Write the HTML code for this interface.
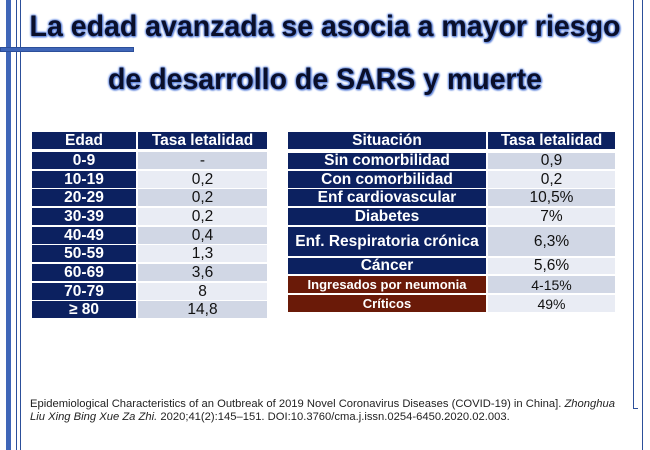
<!DOCTYPE html>
<html><head><meta charset="utf-8"><style>
body{margin:0;width:650px;height:450px;background:#fff;position:relative;overflow:hidden;font-family:"Liberation Sans",Arial,sans-serif}
.a{position:absolute}
.t{position:absolute;left:0;width:650px;text-align:center;font-weight:bold;font-size:30px;color:#0a0f2a;text-shadow:0 0 3px #5f86e0,0 0 3px #5f86e0,0 0 2px #5f86e0,1px 1px 2px #4a70c8}
.c{position:absolute;display:flex;align-items:center;justify-content:center;font-size:15.5px;color:#111}
.h{background:#0c2160;color:#fff;font-weight:bold}
.br{background:#6a1a08;color:#fff;font-weight:bold;font-size:13px}
.l1{background:#d1d7e5}.l2{background:#e9ecf4}
</style></head><body>
<div class="a" style="left:6px;top:0;width:5px;height:450px;background:#3f66b8"></div>
<div class="a" style="left:16px;top:0;width:1px;height:450px;background:#2c4f9a"></div>
<div class="a" style="left:20px;top:0;width:1px;height:450px;background:#2c4f9a"></div>
<div class="a" style="left:0;top:47px;width:134px;height:5px;background:#3f66b8;border:1px solid #2c4f9a;box-sizing:border-box"></div>
<div class="a" style="left:633px;top:0;width:1px;height:409px;background:#2c4f9a"></div>
<div class="a" style="left:633px;top:408px;width:5px;height:1px;background:#2c4f9a"></div>
<div class="a" style="left:642px;top:0;width:1px;height:450px;background:#2c4f9a"></div>
<div class="t" style="top:10px;transform:scaleX(0.95)">La edad avanzada se asocia a mayor riesgo</div>
<div class="t" style="top:63px;transform:scaleX(0.95)">de desarrollo de SARS y muerte</div>

<div class="c h" style="left:32px;top:132px;width:104px;height:17px">Edad</div>
<div class="c h" style="left:138px;top:132px;width:129px;height:17px">Tasa letalidad</div>
<div class="c h" style="left:32px;top:152px;width:104px;height:17px">0-9</div><div class="c l1" style="left:138px;top:152px;width:129px;height:17px">-</div>
<div class="c h" style="left:32px;top:171px;width:104px;height:17px">10-19</div><div class="c l2" style="left:138px;top:171px;width:129px;height:17px">0,2</div>
<div class="c h" style="left:32px;top:189px;width:104px;height:17px">20-29</div><div class="c l1" style="left:138px;top:189px;width:129px;height:17px">0,2</div>
<div class="c h" style="left:32px;top:208px;width:104px;height:17px">30-39</div><div class="c l2" style="left:138px;top:208px;width:129px;height:17px">0,2</div>
<div class="c h" style="left:32px;top:227px;width:104px;height:17px">40-49</div><div class="c l1" style="left:138px;top:227px;width:129px;height:17px">0,4</div>
<div class="c h" style="left:32px;top:245px;width:104px;height:17px">50-59</div><div class="c l2" style="left:138px;top:245px;width:129px;height:17px">1,3</div>
<div class="c h" style="left:32px;top:264px;width:104px;height:17px">60-69</div><div class="c l1" style="left:138px;top:264px;width:129px;height:17px">3,6</div>
<div class="c h" style="left:32px;top:283px;width:104px;height:17px">70-79</div><div class="c l2" style="left:138px;top:283px;width:129px;height:17px">8</div>
<div class="c h" style="left:32px;top:301px;width:104px;height:17px">≥ 80</div><div class="c l1" style="left:138px;top:301px;width:129px;height:17px">14,8</div>

<div class="c h" style="left:288px;top:132px;width:198px;height:17px">Situación</div>
<div class="c h" style="left:488px;top:132px;width:127px;height:17px">Tasa letalidad</div>
<div class="c h" style="left:288px;top:153px;width:198px;height:16px">Sin comorbilidad</div><div class="c l1" style="left:488px;top:153px;width:127px;height:16px">0,9</div>
<div class="c h" style="left:288px;top:171px;width:198px;height:17px">Con comorbilidad</div><div class="c l2" style="left:488px;top:171px;width:127px;height:17px">0,2</div>
<div class="c h" style="left:288px;top:189px;width:198px;height:17px">Enf cardiovascular</div><div class="c l1" style="left:488px;top:189px;width:127px;height:17px">10,5%</div>
<div class="c h" style="left:288px;top:208px;width:198px;height:17px">Diabetes</div><div class="c l2" style="left:488px;top:208px;width:127px;height:17px">7%</div>
<div class="c h" style="left:288px;top:227px;width:198px;height:29px">Enf. Respiratoria crónica</div><div class="c l1" style="left:488px;top:227px;width:127px;height:29px">6,3%</div>
<div class="c h" style="left:288px;top:258px;width:198px;height:16px">Cáncer</div><div class="c l2" style="left:488px;top:258px;width:127px;height:16px">5,6%</div>
<div class="c br" style="left:288px;top:276px;width:198px;height:17px">Ingresados por neumonia</div><div class="c l1" style="left:488px;top:276px;width:127px;height:17px;font-size:14px">4-15%</div>
<div class="c br" style="left:288px;top:295px;width:198px;height:17px">Críticos</div><div class="c l2" style="left:488px;top:295px;width:127px;height:17px;font-size:14px">49%</div>

<div class="a" style="left:30px;top:398px;font-size:11px;line-height:13px;color:#222;white-space:nowrap;transform:scaleX(1.02);transform-origin:0 0">Epidemiological Characteristics of an Outbreak of 2019 Novel Coronavirus Diseases (COVID-19) in China]. <i>Zhonghua</i><br><i>Liu Xing Bing Xue Za Zhi.</i> 2020;41(2):145–151. DOI:10.3760/cma.j.issn.0254-6450.2020.02.003.</div>
</body></html>
